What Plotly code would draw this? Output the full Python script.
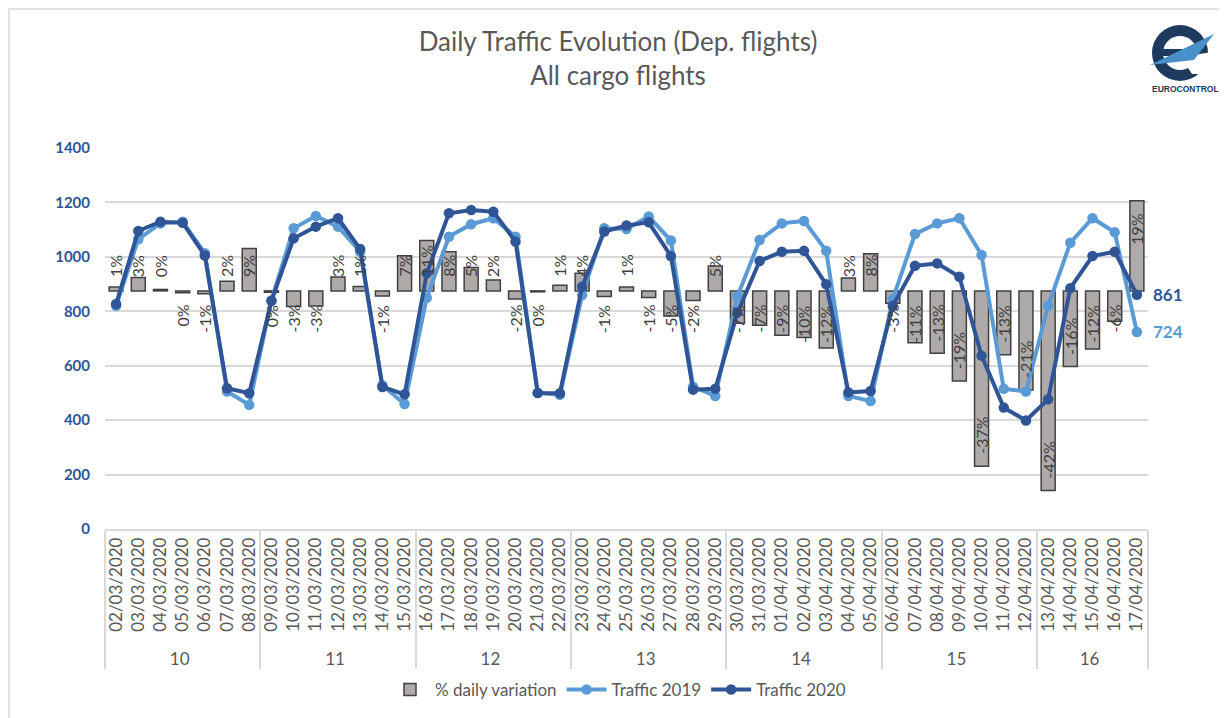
import plotly.graph_objects as go

# ---------------- data ----------------
weeks = ["10"] * 7 + ["11"] * 7 + ["12"] * 7 + ["13"] * 7 + ["14"] * 7 + ["15"] * 7 + ["16"] * 5
dates = [
    "02/03/2020", "03/03/2020", "04/03/2020", "05/03/2020", "06/03/2020", "07/03/2020", "08/03/2020",
    "09/03/2020", "10/03/2020", "11/03/2020", "12/03/2020", "13/03/2020", "14/03/2020", "15/03/2020",
    "16/03/2020", "17/03/2020", "18/03/2020", "19/03/2020", "20/03/2020", "21/03/2020", "22/03/2020",
    "23/03/2020", "24/03/2020", "25/03/2020", "26/03/2020", "27/03/2020", "28/03/2020", "29/03/2020",
    "30/03/2020", "31/03/2020", "01/04/2020", "02/04/2020", "03/04/2020", "04/04/2020", "05/04/2020",
    "06/04/2020", "07/04/2020", "08/04/2020", "09/04/2020", "10/04/2020", "11/04/2020", "12/04/2020",
    "13/04/2020", "14/04/2020", "15/04/2020", "16/04/2020", "17/04/2020",
]
traffic_2019 = [
    820, 1065, 1123, 1129, 1013, 505, 456,
    841, 1105, 1150, 1111, 1019, 528, 459,
    850, 1074, 1120, 1142, 1074, 501, 493,
    860, 1105, 1102, 1148, 1060, 523, 489,
    855, 1062, 1123, 1132, 1022, 489, 470,
    845, 1084, 1123, 1142, 1007, 515, 505,
    820, 1052, 1142, 1090, 724,
]
traffic_2020 = [
    827, 1095, 1129, 1125, 1005, 517, 499,
    838, 1068, 1111, 1142, 1029, 522, 495,
    940, 1160, 1172, 1166, 1056, 500, 499,
    890, 1093, 1115, 1127, 1003, 512, 515,
    795, 985, 1019, 1022, 899, 502, 507,
    820, 967, 976, 927, 637, 446, 399,
    477, 885, 1003, 1019, 861,
]
pct_variation = [
    0.8, 2.8, 0.3, -0.4, -0.6, 2.0, 8.9,
    -0.3, -3.3, -3.2, 2.9, 0.9, -1.1, 7.4,
    10.6, 8.2, 4.9, 2.3, -1.7, -0.2, 1.2,
    3.7, -1.2, 0.8, -1.4, -5.3, -2.0, 5.2,
    -6.8, -7.2, -9.3, -9.8, -12.0, 2.7, 7.8,
    -2.6, -10.9, -13.1, -18.9, -36.8, -13.4, -20.8,
    -41.9, -15.9, -12.2, -6.4, 18.9,
]
y_ticks = [0, 200, 400, 600, 800, 1000, 1200, 1400]

# ---------------- layout constants ----------------
W, H = 1227, 718
OFF = 8  # page body margin
ML = 105 - OFF
MT = 148 - OFF
MR = W - (1148 - OFF)
MB = H - (529 - OFF)
PW, PH = W - ML - MR, H - MT - MB
PCT_RANGE = [-50, 30]
FONT = "Lato, 'Open Sans', Arial, sans-serif"
GREY_TXT = "#595959"
C2019 = "#5B9BD5"
C2020 = "#2F5597"
NAVY = "#1F3A5F"


def px(x):
    """page pixel x -> paper x"""
    return (x - OFF - ML) / PW


def py(y):
    """page pixel y -> paper y"""
    return 1 - (y - OFF - MT) / PH


fig = go.Figure()
fig.add_trace(go.Bar(
    x=[weeks, dates], y=pct_variation, name="% daily variation", yaxis="y",
    width=0.63, marker=dict(color="#AEAAAA", line=dict(color="#404040", width=1.5)),
))
fig.add_trace(go.Scatter(
    x=[weeks, dates], y=traffic_2019, name="Traffic 2019", yaxis="y2",
    mode="lines+markers", line=dict(color=C2019, width=4), marker=dict(size=10.5, color=C2019),
))
fig.add_trace(go.Scatter(
    x=[weeks, dates], y=traffic_2020, name="Traffic 2020", yaxis="y2",
    mode="lines+markers", line=dict(color=C2020, width=4), marker=dict(size=10.5, color=C2020),
))

annotations = []
ppu = PH / (PCT_RANGE[1] - PCT_RANGE[0])
for i, v in enumerate(pct_variation):
    label = f"{int(round(v))}%"
    L = 8.5 * len(label) + 4
    fits = abs(v) * ppu - 10 - L >= 12
    if v >= 0:
        if fits:
            yv, ya, ys = v, "top", -10
        else:
            yv, ya, ys = 0, "bottom", 12
    else:
        if fits:
            yv, ya, ys = v, "bottom", 10
        else:
            yv, ya, ys = 0, "top", -12
    annotations.append(dict(
        x=i, y=yv, xref="x", yref="y", text=label, showarrow=False, textangle=-90,
        yanchor=ya, yshift=ys, xanchor="center",
        font=dict(family=FONT, size=16, color="#404040"),
    ))

last = len(dates) - 1
annotations.append(dict(x=last, y=traffic_2020[-1], xref="x", yref="y2", text=f"{traffic_2020[-1]}",
                        showarrow=False, xanchor="left", xshift=14,
                        font=dict(family=FONT, size=17, color=C2020, weight="bold")))
annotations.append(dict(x=last, y=traffic_2019[-1], xref="x", yref="y2", text=f"{traffic_2019[-1]}",
                        showarrow=False, xanchor="left", xshift=14,
                        font=dict(family=FONT, size=17, color=C2019, weight="bold")))
annotations.append(dict(x=px(1185), y=py(89), xref="paper", yref="paper", text="EUROCONTROL",
                        showarrow=False, xanchor="center", yanchor="middle",
                        font=dict(family="Arial, sans-serif", size=8.5, color=NAVY, weight="bold")))


def path(pts):
    return "M " + " L ".join(f"{px(a):.5f},{py(b):.5f}" for a, b in pts) + " Z"


shapes = [
    # chart border (left and top edges visible)
    dict(type="rect", xref="paper", yref="paper", x0=px(9), y0=py(9), x1=px(1400), y1=py(900),
         line=dict(color="#D9D9D9", width=1.5), fillcolor="rgba(0,0,0,0)", layer="below"),
    # logo
    dict(type="circle", xref="paper", yref="paper", x0=px(1152), x1=px(1208), y0=py(81), y1=py(25),
         fillcolor=NAVY, line=dict(width=0)),
    dict(type="circle", xref="paper", yref="paper", x0=px(1163), x1=px(1197), y0=py(70), y1=py(36),
         fillcolor="white", line=dict(width=0)),
    dict(type="rect", xref="paper", yref="paper", x0=px(1162), x1=px(1199), y0=py(56), y1=py(49),
         fillcolor=NAVY, line=dict(width=0)),
    dict(type="path", xref="paper", yref="paper", path=path([(1181, 57), (1212, 52), (1212, 74), (1192, 74)]),
         fillcolor="white", line=dict(width=0)),
    dict(type="path", xref="paper", yref="paper", path=path([(1150, 65), (1214, 34), (1194, 60)]),
         fillcolor="#4A90C8", line=dict(width=0)),
]

fig.update_layout(
    width=W, height=H,
    margin=dict(l=ML, r=MR, t=MT, b=MB, pad=0, autoexpand=False),
    paper_bgcolor="white", plot_bgcolor="white",
    font=dict(family=FONT, color=GREY_TXT),
    title=dict(text="Daily Traffic Evolution (Dep. flights)<br>All cargo flights",
               x=(618 - OFF) / W, xanchor="center", y=1 - 43 / H, yanchor="top", yref="container",
               font=dict(family=FONT, size=26, color=GREY_TXT)),
    showlegend=True,
    legend=dict(orientation="h", x=610 / W, xanchor="center", y=1 - 682 / H, yanchor="middle",
                xref="container", yref="container",
                font=dict(family=FONT, size=17, color=GREY_TXT), bgcolor="rgba(0,0,0,0)",
                itemwidth=40, tracegroupgap=0),
    bargap=0.37,
    xaxis=dict(type="multicategory", tickangle=-90, tickfont=dict(family=FONT, size=17, color=GREY_TXT),
               range=[-0.5, len(dates) - 0.5], autorange=False,
               showline=True, linecolor="#D9D9D9", linewidth=1.5, showgrid=False, ticks="",
               showdividers=True, dividercolor="#D9D9D9", dividerwidth=1.5, automargin=False),
    yaxis=dict(range=PCT_RANGE, visible=False, showgrid=False, zeroline=False, fixedrange=True,
               automargin=False),
    yaxis2=dict(overlaying="y", side="left", range=[0, 1400], tickvals=y_ticks,
                showgrid=True, gridcolor="#D9D9D9", gridwidth=1.5, zeroline=False, showline=False,
                tickfont=dict(family=FONT, size=15, color=C2020, weight="bold"),
                ticklabelstandoff=14, automargin=False),
    annotations=annotations,
    shapes=shapes,
)

fig.write_html("out.html")
